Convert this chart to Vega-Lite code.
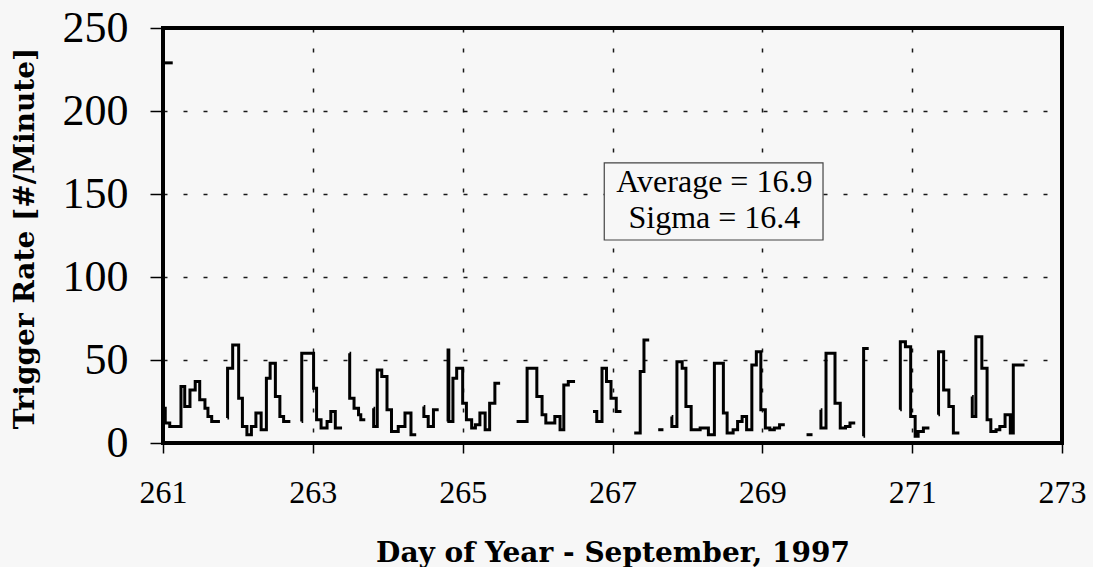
{
  "$schema": "https://vega.github.io/schema/vega-lite/v6.json",
  "width": 899,
  "height": 415,
  "autosize": {"type": "none"},
  "padding": {"left": 163, "top": 28, "right": 31, "bottom": 124},
  "background": "#f7f7f7",
  "config": {
    "view": {"stroke": "#000000", "strokeWidth": 4, "fill": "#f7f7f7"},
    "axis": {
      "grid": true,
      "gridColor": "#000000",
      "gridDash": [4, 16],
      "gridWidth": 1.5,
      "gridOpacity": 0.9,
      "domain": false,
      "tickColor": "#000000",
      "tickWidth": 1.5,
      "labelColor": "#000000",
      "titleColor": "#000000",
      "labelFont": "Liberation Serif",
      "labelFlush": false,
      "titleFont": "DejaVu Serif",
      "titleFontWeight": "bold"
    }
  },
  "datasets": {
    "trace": [
      {"d": 261.02, "r": 229, "s": 0}, {"d": 261.13, "r": 229, "s": 0},
      {"d": 261.0, "r": 21, "s": 1}, {"d": 261.03, "r": 12, "s": 1}, {"d": 261.09, "r": 10, "s": 1}, {"d": 261.24, "r": 34, "s": 1}, {"d": 261.29, "r": 22, "s": 1}, {"d": 261.36, "r": 32, "s": 1}, {"d": 261.43, "r": 37, "s": 1}, {"d": 261.49, "r": 26, "s": 1}, {"d": 261.56, "r": 21, "s": 1}, {"d": 261.6, "r": 16, "s": 1}, {"d": 261.65, "r": 13, "s": 1}, {"d": 261.76, "r": 13, "s": 1},
      {"d": 261.86, "r": 15, "s": 2}, {"d": 261.862, "r": 45, "s": 2}, {"d": 261.93, "r": 59, "s": 2}, {"d": 262.01, "r": 27, "s": 2}, {"d": 262.06, "r": 10, "s": 2}, {"d": 262.12, "r": 5, "s": 2}, {"d": 262.18, "r": 10, "s": 2}, {"d": 262.24, "r": 18, "s": 2}, {"d": 262.31, "r": 8, "s": 2}, {"d": 262.38, "r": 39, "s": 2}, {"d": 262.43, "r": 48, "s": 2}, {"d": 262.5, "r": 28, "s": 2}, {"d": 262.56, "r": 16, "s": 2}, {"d": 262.61, "r": 13, "s": 2}, {"d": 262.7, "r": 13, "s": 2},
      {"d": 262.85, "r": 13, "s": 3}, {"d": 262.852, "r": 54, "s": 3}, {"d": 263.01, "r": 33, "s": 3}, {"d": 263.05, "r": 14, "s": 3}, {"d": 263.11, "r": 9, "s": 3}, {"d": 263.19, "r": 13, "s": 3}, {"d": 263.24, "r": 19, "s": 3}, {"d": 263.3, "r": 9, "s": 3}, {"d": 263.39, "r": 9, "s": 3},
      {"d": 263.49, "r": 54, "s": 4}, {"d": 263.492, "r": 27, "s": 4}, {"d": 263.55, "r": 21, "s": 4}, {"d": 263.61, "r": 17, "s": 4}, {"d": 263.64, "r": 14, "s": 4}, {"d": 263.7, "r": 14, "s": 4},
      {"d": 263.81, "r": 21, "s": 5}, {"d": 263.812, "r": 10, "s": 5}, {"d": 263.86, "r": 44, "s": 5}, {"d": 263.92, "r": 40, "s": 5}, {"d": 263.99, "r": 20, "s": 5}, {"d": 264.05, "r": 7, "s": 5}, {"d": 264.14, "r": 10, "s": 5}, {"d": 264.23, "r": 18, "s": 5}, {"d": 264.31, "r": 5, "s": 5}, {"d": 264.38, "r": 5, "s": 5},
      {"d": 264.48, "r": 22, "s": 6}, {"d": 264.482, "r": 16, "s": 6}, {"d": 264.54, "r": 10, "s": 6}, {"d": 264.61, "r": 20, "s": 6}, {"d": 264.68, "r": 20, "s": 6},
      {"d": 264.8, "r": 13, "s": 7}, {"d": 264.805, "r": 56, "s": 7}, {"d": 264.815, "r": 13, "s": 7}, {"d": 264.87, "r": 39, "s": 7}, {"d": 264.92, "r": 45, "s": 7}, {"d": 265.0, "r": 24, "s": 7}, {"d": 265.05, "r": 14, "s": 7}, {"d": 265.12, "r": 9, "s": 7}, {"d": 265.17, "r": 11, "s": 7}, {"d": 265.23, "r": 18, "s": 7}, {"d": 265.3, "r": 8, "s": 7}, {"d": 265.36, "r": 24, "s": 7}, {"d": 265.43, "r": 36, "s": 7}, {"d": 265.5, "r": 36, "s": 7},
      {"d": 265.72, "r": 13, "s": 8}, {"d": 265.86, "r": 45, "s": 8}, {"d": 265.99, "r": 28, "s": 8}, {"d": 266.06, "r": 17, "s": 8}, {"d": 266.11, "r": 12, "s": 8}, {"d": 266.23, "r": 16, "s": 8}, {"d": 266.3, "r": 8, "s": 8}, {"d": 266.35, "r": 35, "s": 8}, {"d": 266.41, "r": 37, "s": 8}, {"d": 266.5, "r": 37, "s": 8},
      {"d": 266.74, "r": 19, "s": 9}, {"d": 266.79, "r": 13, "s": 9}, {"d": 266.86, "r": 45, "s": 9}, {"d": 266.92, "r": 37, "s": 9}, {"d": 266.98, "r": 27, "s": 9}, {"d": 267.05, "r": 19, "s": 9}, {"d": 267.12, "r": 19, "s": 9},
      {"d": 267.29, "r": 6, "s": 10}, {"d": 267.37, "r": 43, "s": 10}, {"d": 267.42, "r": 62, "s": 10}, {"d": 267.49, "r": 62, "s": 10},
      {"d": 267.61, "r": 8, "s": 11}, {"d": 267.68, "r": 8, "s": 11},
      {"d": 267.79, "r": 16, "s": 12}, {"d": 267.792, "r": 10, "s": 12}, {"d": 267.86, "r": 49, "s": 12}, {"d": 267.93, "r": 45, "s": 12}, {"d": 267.98, "r": 22, "s": 12}, {"d": 268.05, "r": 8, "s": 12}, {"d": 268.17, "r": 9, "s": 12}, {"d": 268.28, "r": 5, "s": 12}, {"d": 268.36, "r": 48, "s": 12}, {"d": 268.48, "r": 18, "s": 12}, {"d": 268.53, "r": 6, "s": 12}, {"d": 268.61, "r": 8, "s": 12}, {"d": 268.67, "r": 13, "s": 12}, {"d": 268.73, "r": 16, "s": 12}, {"d": 268.79, "r": 8, "s": 12}, {"d": 268.86, "r": 47, "s": 12}, {"d": 268.92, "r": 55, "s": 12}, {"d": 268.98, "r": 20, "s": 12}, {"d": 269.04, "r": 9, "s": 12}, {"d": 269.1, "r": 8, "s": 12}, {"d": 269.16, "r": 9, "s": 12}, {"d": 269.23, "r": 11, "s": 12}, {"d": 269.3, "r": 11, "s": 12},
      {"d": 269.59, "r": 5, "s": 13}, {"d": 269.67, "r": 5, "s": 13},
      {"d": 269.78, "r": 20, "s": 14}, {"d": 269.782, "r": 9, "s": 14}, {"d": 269.85, "r": 54, "s": 14}, {"d": 269.97, "r": 24, "s": 14}, {"d": 270.04, "r": 9, "s": 14}, {"d": 270.11, "r": 10, "s": 14}, {"d": 270.17, "r": 12, "s": 14}, {"d": 270.24, "r": 12, "s": 14},
      {"d": 270.35, "r": 4, "s": 15}, {"d": 270.352, "r": 57, "s": 15}, {"d": 270.42, "r": 57, "s": 15},
      {"d": 270.84, "r": 20, "s": 16}, {"d": 270.842, "r": 61, "s": 16}, {"d": 270.91, "r": 58, "s": 16}, {"d": 270.98, "r": 16, "s": 16}, {"d": 271.04, "r": 4, "s": 16}, {"d": 271.08, "r": 7, "s": 16}, {"d": 271.15, "r": 9, "s": 16}, {"d": 271.23, "r": 9, "s": 16},
      {"d": 271.35, "r": 17, "s": 17}, {"d": 271.352, "r": 55, "s": 17}, {"d": 271.42, "r": 32, "s": 17}, {"d": 271.49, "r": 22, "s": 17}, {"d": 271.55, "r": 6, "s": 17}, {"d": 271.63, "r": 6, "s": 17},
      {"d": 271.8, "r": 28, "s": 18}, {"d": 271.802, "r": 16, "s": 18}, {"d": 271.85, "r": 64, "s": 18}, {"d": 271.93, "r": 45, "s": 18}, {"d": 272.0, "r": 14, "s": 18}, {"d": 272.05, "r": 7, "s": 18}, {"d": 272.12, "r": 8, "s": 18}, {"d": 272.17, "r": 10, "s": 18}, {"d": 272.24, "r": 17, "s": 18}, {"d": 272.31, "r": 6, "s": 18}, {"d": 272.35, "r": 47, "s": 18}, {"d": 272.5, "r": 47, "s": 18}
    ],
    "box": [{"x1": 266.89, "x2": 269.81, "y1": 122.3, "y2": 168.7}],
    "notes": [
      {"x": 268.36, "y": 157, "t": "Average = 16.9"},
      {"x": 268.36, "y": 135.5, "t": "Sigma = 16.4"}
    ]
  },
  "layer": [
    {
      "data": {"name": "trace"},
      "mark": {"type": "line", "interpolate": "step-after", "color": "#000000", "strokeWidth": 3, "clip": true},
      "encoding": {
        "x": {
          "field": "d", "type": "quantitative",
          "scale": {"domain": [261, 273], "nice": false, "zero": false},
          "title": "Day of Year - September, 1997",
          "axis": {
            "values": [261, 263, 265, 267, 269, 271, 273],
            "format": "d",
            "tickSize": 10,
            "labelFontSize": 32,
            "labelAlign": "center",
            "labelBaseline": "alphabetic",
            "labelPadding": 49,
            "titleFontSize": 28,
            "titleX": 449.5,
            "titleY": 118,
            "titleAlign": "center",
            "titleBaseline": "alphabetic"
          }
        },
        "y": {
          "field": "r", "type": "quantitative",
          "scale": {"domain": [0, 250], "nice": false},
          "title": "Trigger Rate [#/Minute]",
          "axis": {
            "values": [0, 50, 100, 150, 200, 250],
            "tickSize": 13,
            "labelFontSize": 44,
            "labelPadding": 22,
            "labelBaseline": "middle",
            "titleFontSize": 28,
            "titleAngle": -90,
            "titleX": -130,
            "titleY": 210,
            "titleAlign": "center",
            "titleBaseline": "alphabetic"
          }
        },
        "detail": {"field": "s", "type": "nominal"}
      }
    },
    {
      "data": {"name": "box"},
      "mark": {"type": "rect", "fill": "#f7f7f7", "stroke": "#444444", "strokeWidth": 1.2},
      "encoding": {
        "x": {"field": "x1", "type": "quantitative", "title": "Day of Year - September, 1997"},
        "x2": {"field": "x2"},
        "y": {"field": "y1", "type": "quantitative", "title": "Trigger Rate [#/Minute]"},
        "y2": {"field": "y2"}
      }
    },
    {
      "data": {"name": "notes"},
      "mark": {"type": "text", "font": "Liberation Serif", "fontSize": 32, "color": "#000000", "align": "center", "baseline": "middle"},
      "encoding": {
        "x": {"field": "x", "type": "quantitative", "title": "Day of Year - September, 1997"},
        "y": {"field": "y", "type": "quantitative", "title": "Trigger Rate [#/Minute]"},
        "text": {"field": "t", "type": "nominal"}
      }
    }
  ]
}
